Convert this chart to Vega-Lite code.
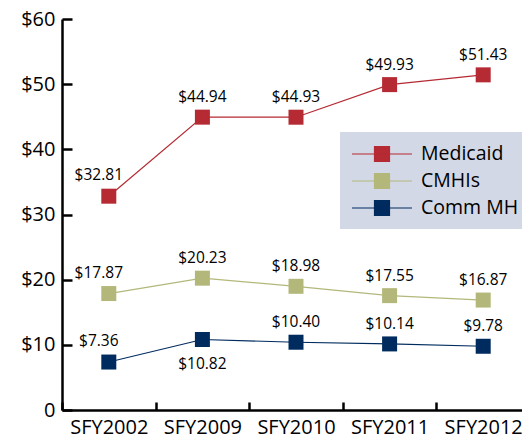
{
  "$schema": "https://vega.github.io/schema/vega-lite/v6.json",
  "autosize": "none",
  "width": 460,
  "height": 391,
  "padding": {"left": 62, "top": 19, "right": 0, "bottom": 26},
  "background": "white",
  "config": {
    "view": {"stroke": null},
    "font": "Open Sans",
    "axis": {"grid": false, "title": null, "domainColor": "black", "domainWidth": 2.5, "tickColor": "black", "tickWidth": 2.5, "labelColor": "black", "labelFont": "Open Sans", "labelFontSize": 20}
  },
  "data": {
    "values": [
      {"year": "SFY2002", "series": "Medicaid", "value": 32.81},
      {"year": "SFY2009", "series": "Medicaid", "value": 44.94},
      {"year": "SFY2010", "series": "Medicaid", "value": 44.93},
      {"year": "SFY2011", "series": "Medicaid", "value": 49.93},
      {"year": "SFY2012", "series": "Medicaid", "value": 51.43},
      {"year": "SFY2002", "series": "CMHIs", "value": 17.87},
      {"year": "SFY2009", "series": "CMHIs", "value": 20.23},
      {"year": "SFY2010", "series": "CMHIs", "value": 18.98},
      {"year": "SFY2011", "series": "CMHIs", "value": 17.55},
      {"year": "SFY2012", "series": "CMHIs", "value": 16.87},
      {"year": "SFY2002", "series": "Comm MH", "value": 7.36},
      {"year": "SFY2009", "series": "Comm MH", "value": 10.82},
      {"year": "SFY2010", "series": "Comm MH", "value": 10.40},
      {"year": "SFY2011", "series": "Comm MH", "value": 10.14},
      {"year": "SFY2012", "series": "Comm MH", "value": 9.78}
    ]
  },
  "encoding": {
    "x": {
      "field": "year", "type": "nominal",
      "scale": {"type": "band", "paddingInner": 0, "paddingOuter": 0, "range": [0, 468]},
      "axis": {"labelAngle": 0, "tickBand": "extent", "tickSize": -8, "labelPadding": 15}
    },
    "y": {
      "field": "value", "type": "quantitative",
      "scale": {"domain": [0, 60], "nice": false},
      "axis": {"values": [0, 10, 20, 30, 40, 50, 60], "tickSize": -10, "labelPadding": 17, "labelExpr": "datum.value == 0 ? '0' : '$' + datum.value"}
    },
    "color": {
      "field": "series", "type": "nominal",
      "scale": {"domain": ["Medicaid", "CMHIs", "Comm MH"], "range": ["#b52a33", "#b3b87a", "#002b5e"]},
      "legend": {
        "title": null, "orient": "none", "legendX": 278, "legendY": 113,
        "fillColor": "#d3d8e6", "padding": 11, "offset": 0,
        "symbolType": "M-1,0H5M1.25,-0.75H2.75V0.75H1.25Z", "symbolSize": 400,
        "symbolStrokeWidth": 1.2, "labelOffset": 48, "labelFontSize": 19.5, "labelFont": "Open Sans", "labelColor": "black",
        "labelLimit": 200, "rowPadding": 6,
        "encode": {"symbols": {"update": {"fill": {"scale": "color", "field": "value"}, "stroke": {"scale": "color", "field": "value"}, "opacity": {"value": 1}}}}
      }
    }
  },
  "layer": [
    {"mark": {"type": "line", "strokeWidth": 1.2}},
    {"mark": {"type": "point", "shape": "square", "filled": true, "size": 225, "opacity": 1}},
    {
      "transform": [{"filter": "datum.year != 'SFY2002' && !(datum.series == 'Comm MH' && datum.year == 'SFY2009')"}],
      "mark": {"type": "text", "dy": -20, "baseline": "middle", "fontSize": 15.5, "font": "Open Sans", "color": "black"},
      "encoding": {"text": {"field": "value", "type": "quantitative", "format": "$.2f"}, "color": {"value": "black"}}
    },
    {
      "transform": [{"filter": "datum.year == 'SFY2002'"}],
      "mark": {"type": "text", "dy": -21, "dx": -10, "baseline": "middle", "fontSize": 15.5, "font": "Open Sans", "color": "black"},
      "encoding": {"text": {"field": "value", "type": "quantitative", "format": "$.2f"}, "color": {"value": "black"}}
    },
    {
      "transform": [{"filter": "datum.series == 'Comm MH' && datum.year == 'SFY2009'"}],
      "mark": {"type": "text", "dy": 25, "baseline": "middle", "fontSize": 15.5, "font": "Open Sans", "color": "black"},
      "encoding": {"text": {"field": "value", "type": "quantitative", "format": "$.2f"}, "color": {"value": "black"}}
    }
  ]
}
